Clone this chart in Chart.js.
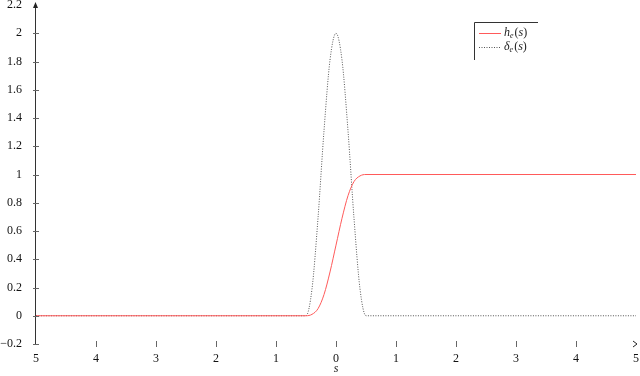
<!DOCTYPE html>
<html>
<head>
<meta charset="utf-8">
<script src="https://cdn.jsdelivr.net/npm/chart.js@4"></script>
<style>
  html, body { margin: 0; padding: 0; background: #fff; }
  #wrap { width: 640px; height: 376px; }
</style>
</head>
<body>
<div id="wrap"><canvas id="chart"></canvas></div>
<script>
// values
const sH = [-5, -0.5, -0.4, -0.3, -0.2, -0.1, 0, 0.1, 0.2, 0.3, 0.4, 0.5, 5];
const hE = [0, 0, 0.01, 0.05, 0.15, 0.31, 0.5, 0.69, 0.85, 0.95, 0.99, 1, 1];
const sD = [-5, -0.5, -0.4, -0.3, -0.2, -0.1, 0, 0.1, 0.2, 0.3, 0.4, 0.5, 5];
const dE = [0, 0, 0.19, 0.69, 1.31, 1.81, 2, 1.81, 1.31, 0.69, 0.19, 0, 0];
const xTicks = [-5, -4, -3, -2, -1, 0, 1, 2, 3, 4, 5];
const yTicks = [-0.2, 0, 0.2, 0.4, 0.6, 0.8, 1, 1.2, 1.4, 1.6, 1.8, 2, 2.2];

const serif = '"Liberation Serif", serif';
Chart.defaults.font.family = serif;

// axes, ticks and legend, drawn TikZ style
const decor = {
  id: 'decor',
  afterDraw(chart) {
    const ctx = chart.ctx;
    const xs = chart.scales.x, ys = chart.scales.y;
    const x0 = xs.getPixelForValue(-5);
    const yb = ys.getPixelForValue(-0.2);
    const yt = ys.getPixelForValue(2.2);
    const xr = xs.getPixelForValue(5);
    ctx.save();
    ctx.strokeStyle = '#333';
    ctx.fillStyle = '#222';
    ctx.lineWidth = 1;
    // y axis with arrow
    ctx.beginPath();
    ctx.moveTo(x0 - 0.5, yb);
    ctx.lineTo(x0 - 0.5, yt);
    ctx.stroke();
    ctx.beginPath();
    ctx.moveTo(x0 - 0.5, yt - 3);
    ctx.lineTo(x0 - 3, yt + 3);
    ctx.lineTo(x0 + 2, yt + 3);
    ctx.closePath();
    ctx.fill();
    // y ticks
    ctx.strokeStyle = '#666';
    yTicks.forEach(v => {
      if (v === 2.2) return;
      const y = Math.round(ys.getPixelForValue(v)) + 0.5;
      ctx.beginPath();
      ctx.moveTo(x0 - 3, y);
      ctx.lineTo(x0 + 3, y);
      ctx.stroke();
    });
    // x ticks
    xTicks.forEach(v => {
      if (v === -5 || v === 5) return;
      const x = Math.round(xs.getPixelForValue(v)) + 0.5;
      ctx.beginPath();
      ctx.moveTo(x, yb - 3);
      ctx.lineTo(x, yb + 3);
      ctx.stroke();
    });
    // x arrow tip
    ctx.strokeStyle = '#222';
    ctx.beginPath();
    ctx.moveTo(xr - 3, yb - 3);
    ctx.lineTo(xr + 1, yb);
    ctx.lineTo(xr - 3, yb + 3);
    ctx.stroke();
    // axis title
    ctx.font = 'italic 12px ' + serif;
    ctx.textAlign = 'center';
    ctx.textBaseline = 'middle';
    ctx.fillText('s', xs.getPixelForValue(0), 369);

    // legend
    const lx = 474, ly = 22;
    ctx.strokeStyle = '#333';
    ctx.beginPath();
    ctx.moveTo(lx + 0.5, ly + 38);
    ctx.lineTo(lx + 0.5, ly + 0.5);
    ctx.lineTo(lx + 64, ly + 0.5);
    ctx.stroke();
    ctx.lineWidth = 1;
    ctx.strokeStyle = '#ff5a5a';
    ctx.beginPath();
    ctx.moveTo(lx + 5, ly + 11.5);
    ctx.lineTo(lx + 27, ly + 11.5);
    ctx.stroke();
    ctx.strokeStyle = '#555';
    ctx.setLineDash([1, 1.5]);
    ctx.beginPath();
    ctx.moveTo(lx + 5, ly + 25.5);
    ctx.lineTo(lx + 27, ly + 25.5);
    ctx.stroke();
    ctx.setLineDash([]);
    ctx.textAlign = 'left';
    const entry = (main, y) => {
      let x = lx + 30;
      ctx.font = 'italic 12px ' + serif;
      ctx.fillText(main, x, y);
      x += ctx.measureText(main).width;
      ctx.font = 'italic 8px ' + serif;
      ctx.fillText('e', x, y + 3);
      x += ctx.measureText('e').width + 1;
      ctx.font = '12px ' + serif;
      ctx.fillText('(', x, y);
      x += ctx.measureText('(').width;
      ctx.font = 'italic 12px ' + serif;
      ctx.fillText('s', x, y);
      x += ctx.measureText('s').width;
      ctx.font = '12px ' + serif;
      ctx.fillText(')', x, y);
    };
    entry('h', ly + 11);
    entry('\u03b4', ly + 25);
    ctx.restore();
  }
};

function draw() {
  new Chart(document.getElementById('chart'), {
    type: 'line',
    data: {
      datasets: [
        {
          label: 'h_e(s)',
          data: sH.map((s, i) => ({ x: s, y: hE[i] })),
          borderColor: '#ff5a5a',
          borderWidth: 1,
          pointRadius: 0,
          cubicInterpolationMode: 'monotone'
        },
        {
          label: '\u03b4_e(s)',
          data: sD.map((s, i) => ({ x: s, y: dE[i] })),
          borderColor: '#555',
          borderWidth: 1,
          borderDash: [1, 1.5],
          pointRadius: 0,
          cubicInterpolationMode: 'monotone'
        }
      ]
    },
    plugins: [decor],
    options: {
      responsive: true,
      maintainAspectRatio: false,
      animation: false,
      layout: { padding: { top: 5, right: 4, left: 0, bottom: 0 } },
      plugins: { legend: { display: false }, tooltip: { enabled: false } },
      scales: {
        x: {
          type: 'linear',
          min: -5, max: 5,
          afterBuildTicks: s => { s.ticks = xTicks.map(v => ({ value: v })); },
          afterFit: s => { s.height = 32; },
          grid: { display: false },
          border: { display: false },
          ticks: {
            color: '#111',
            padding: 0,
            maxRotation: 0,
            font: { family: serif, size: 12 },
            callback: v => String(Math.abs(v))
          }
        },
        y: {
          min: -0.2, max: 2.2,
          afterBuildTicks: s => { s.ticks = yTicks.map(v => ({ value: v })); },
          afterFit: s => { s.width = 36; s.paddingTop = 0; s.paddingBottom = 0; },
          grid: { display: false },
          border: { display: false },
          ticks: {
            color: '#111',
            padding: 6,
            font: { family: serif, size: 12 },
            callback: v => (v < 0 ? '\u22120.2' : String(Math.round(v * 10) / 10))
          }
        }
      }
    }
  });
}

Promise.all([
  document.fonts.load('12px "Liberation Serif"'),
  document.fonts.load('italic 12px "Liberation Serif"')
]).then(draw, draw);
</script>
</body>
</html>
